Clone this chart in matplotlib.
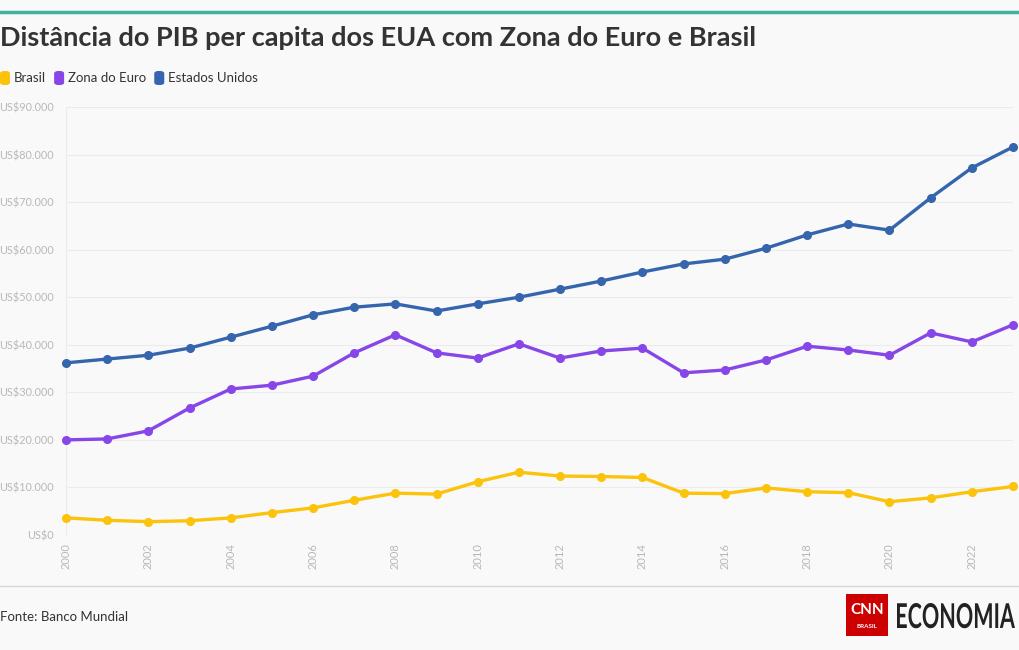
import matplotlib.pyplot as plt
from matplotlib.patches import FancyBboxPatch, Rectangle, PathPatch
from matplotlib.lines import Line2D
from matplotlib.ticker import FuncFormatter
from matplotlib.textpath import TextPath
from matplotlib.font_manager import FontProperties
from matplotlib.transforms import Affine2D

plt.rcParams['font.family'] = ['Lato', 'DejaVu Sans']

anos = list(range(2000, 2024))
brasil = [3.6, 3.1, 2.8, 3.0, 3.6, 4.7, 5.7, 7.3, 8.8, 8.6, 11.2, 13.2,
          12.4, 12.3, 12.1, 8.8, 8.7, 9.9, 9.1, 8.9, 7.0, 7.8, 9.1, 10.2]
zona_euro = [20.0, 20.2, 21.9, 26.7, 30.7, 31.5, 33.4, 38.3, 42.1, 38.3, 37.2, 40.2,
             37.2, 38.7, 39.3, 34.1, 34.7, 36.8, 39.7, 38.9, 37.8, 42.5, 40.6, 44.2]
eua = [36.2, 37.0, 37.8, 39.3, 41.6, 43.9, 46.3, 47.9, 48.6, 47.1, 48.6, 50.0,
       51.7, 53.4, 55.3, 57.0, 58.0, 60.3, 63.1, 65.4, 64.1, 70.9, 77.2, 81.6]
brasil = [v * 1000 for v in brasil]
zona_euro = [v * 1000 for v in zona_euro]
eua = [v * 1000 for v in eua]

series = [('Brasil', brasil, '#fbc30b'),
          ('Zona do Euro', zona_euro, '#8746e8'),
          ('Estados Unidos', eua, '#3565ad')]

bg = '#f9f9f9'
fig = plt.figure(figsize=(10.2, 6.5), dpi=100, facecolor=bg)
ax = fig.add_axes([66 / 1020, 1 - 535 / 650, (1013 - 66) / 1020, (535 - 107) / 650])
ax.set_facecolor(bg)

for nome, vals, cor in series:
    ax.plot(anos, vals, color=cor, lw=2.4, marker='o', ms=5.5, clip_on=False, zorder=3)

ax.set_xlim(2000, 2023)
ax.set_ylim(0, 90000)
ax.set_yticks(range(0, 90001, 10000))
ax.yaxis.set_major_formatter(FuncFormatter(lambda v, p: 'US$' + f'{int(v):,}'.replace(',', '.')))
ax.set_xticks(range(2000, 2023, 2))
ax.tick_params(axis='x', rotation=90, labelsize=8, colors='#b8b8b8', length=0, pad=6)
ax.tick_params(axis='y', labelsize=7.8, colors='#b8b8b8', length=0, pad=9)
ax.grid(True, axis='y', color='#ebebeb', lw=0.8)
ax.set_axisbelow(True)
for s in ax.spines.values():
    s.set_visible(False)
ax.axvline(2000, color='#ebebeb', lw=0.8, zorder=0)

# linha superior e separador
fig.add_artist(Line2D([0, 1], [1 - 12 / 650] * 2, color='#3fb39b', lw=2.5))
fig.add_artist(Line2D([0, 1], [1 - 586 / 650] * 2, color='#d8d8d8', lw=1))

fig.text(0, 1 - 38 / 650, 'Distância do PIB per capita dos EUA com Zona do Euro e Brasil',
         fontsize=19.5, fontweight='bold', color='#333333', va='center')

# legenda
x = 0
for nome, vals, cor in series:
    fig.add_artist(FancyBboxPatch((x / 1020, (650 - 85) / 650), 10 / 1020, 14 / 650,
                                  boxstyle='round,pad=0,rounding_size=0.004',
                                  transform=fig.transFigure, facecolor=cor, edgecolor='none'))
    t = fig.text((x + 14) / 1020, 1 - 78 / 650, nome, fontsize=9.5, color='#333333', va='center')
    fig.canvas.draw()
    bb = t.get_window_extent()
    x = bb.x1 + 8

fig.text(0, 1 - 617 / 650, 'Fonte: Banco Mundial', fontsize=9.5, color='#333333', va='center')

# logo
fig.add_artist(Rectangle((846 / 1020, 1 - 636 / 650), 42 / 1020, 42 / 650,
                         transform=fig.transFigure, facecolor='#cc0000', edgecolor='none'))
fig.text(867 / 1020, 1 - 610 / 650, 'CNN', fontsize=11, fontweight='bold', color='white',
         ha='center', va='center')
fig.text(867 / 1020, 1 - 627 / 650, 'BRASIL', fontsize=4.5, fontweight='bold', color='white',
         ha='center', va='center')

tp = TextPath((0, 0), 'ECONOMIA', size=10, prop=FontProperties(family='Lato', weight='bold'))
ext = tp.get_extents()
sx = 118 / ext.width
sy = 25 / (ext.y1 - max(ext.y0, 0))
tr = Affine2D().translate(-ext.x0, 0).scale(sx, sy).translate(897, 650 - 628)
fig.add_artist(PathPatch(tr.transform_path(tp), facecolor='#222222', edgecolor='none',
                         transform=None))

fig.savefig('out.png', dpi=100, facecolor=bg)
